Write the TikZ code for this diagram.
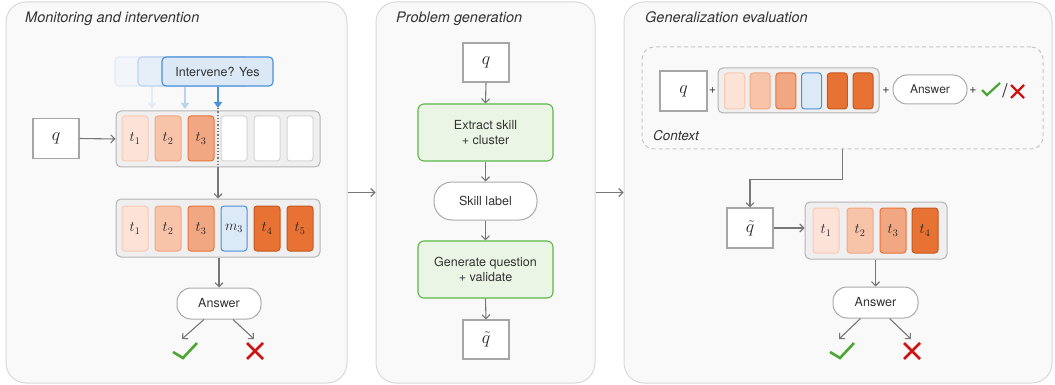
\RequirePackage{fix-cm}
\documentclass[tikz,border=0pt]{standalone}
\usepackage{fontspec}
\setmainfont{TeX Gyre Heros}
\usetikzlibrary{arrows.meta,calc}

\definecolor{txtc}{HTML}{333333}
\definecolor{panelf}{HTML}{F9F9F9}
\definecolor{panelb}{HTML}{D9D9D9}
\definecolor{contf}{HTML}{EFEFEF}
\definecolor{contb}{HTML}{B4B4B4}
\definecolor{qb}{HTML}{A6A6A6}
\definecolor{arrc}{HTML}{777777}
\definecolor{tAf}{HTML}{FDE3D7}\definecolor{tAb}{HTML}{F9C9B1}
\definecolor{tBf}{HTML}{F7C4AA}\definecolor{tBb}{HTML}{F2A883}
\definecolor{tCf}{HTML}{F1A882}\definecolor{tCb}{HTML}{E8743C}
\definecolor{tDf}{HTML}{E87233}\definecolor{tDb}{HTML}{C4581F}
\definecolor{tMf}{HTML}{DCE9F7}\definecolor{tMb}{HTML}{4A8FD8}
\definecolor{emptyb}{HTML}{D4D4D4}
\definecolor{grf}{HTML}{EBF5E6}\definecolor{grb}{HTML}{5CB646}
\definecolor{pillb}{HTML}{AAAAAA}
\definecolor{ivf}{HTML}{DBE8F6}\definecolor{ivb}{HTML}{4A90D9}
\definecolor{ghAf}{HTML}{F2F6FB}\definecolor{ghAb}{HTML}{E3ECF7}
\definecolor{ghBf}{HTML}{E6EEF8}\definecolor{ghBb}{HTML}{B9D3EF}
\definecolor{okc}{HTML}{4CA634}
\definecolor{noc}{HTML}{CC1414}
\definecolor{ctxb}{HTML}{C8C8C8}

\tikzset{
  panel/.style={draw=panelb, fill=panelf, rounded corners=20pt, line width=1pt, minimum height=381pt},
  ptitle/.style={anchor=base west, inner sep=0pt, text=txtc, font=\fontsize{14.5}{16}\selectfont\itshape},
  lbl/.style={text=txtc, font=\fontsize{12.5}{15}\selectfont},
  arr/.style={draw=arrc, line width=1.1pt, -{Straight Barb[length=4pt,width=8pt]}},
  qbox/.style={draw=qb, fill=white, line width=1.1pt, inner sep=0pt, text=black!85, font=\fontsize{18}{18}\selectfont},
  cont/.style={draw=contb, fill=contf, rounded corners=5pt, line width=1pt, inner sep=0pt},
  tok/.style={rounded corners=3pt, line width=1pt, inner sep=0pt, minimum width=26pt, minimum height=45pt, text=black!85, font=\fontsize{14.5}{14.5}\selectfont},
  stok/.style={rounded corners=3pt, line width=1pt, inner sep=0pt, minimum width=20pt, minimum height=36pt},
  tA/.style={draw=tAb, fill=tAf},
  tB/.style={draw=tBb, fill=tBf},
  tC/.style={draw=tCb, fill=tCf},
  tD/.style={draw=tDb, fill=tDf},
  tM/.style={draw=tMb, fill=tMf},
  tE/.style={draw=emptyb, fill=white},
  pill/.style={lbl, draw=pillb, fill=white, rounded corners=14pt, line width=1pt, inner sep=0pt},
  gbox/.style={lbl, align=center, draw=grb, fill=grf, rounded corners=6pt, line width=1.1pt, inner sep=0pt, minimum width=135pt, minimum height=57pt},
  ivbox/.style={lbl, rounded corners=4pt, line width=1.1pt, inner sep=0pt, minimum width=111pt, minimum height=29pt},
  okmark/.style={draw=okc, line width=2.6pt},
  nomark/.style={draw=noc, line width=2.6pt},
  plus/.style={text=txtc, inner sep=0pt, font=\fontsize{12.5}{14}\selectfont},
}

\begin{document}
\begin{tikzpicture}[x=1pt,y=-1pt]
\useasboundingbox (0,0) rectangle (1055,385);

% ---------- panels ----------
\node[panel, minimum width=341pt] (p1) at (176.5,192.5) {};
\node[panel, minimum width=219pt] (p2) at (485.5,192.5) {};
\node[panel, minimum width=428pt] (p3) at (838,192.5) {};
\node[ptitle] (t1) at (25,23) {Monitoring and intervention};
\node[ptitle] (t2) at (396,23) {Problem generation};
\node[ptitle] (t3) at (645,23) {Generalization evaluation};
\draw[arr] (p1.east) -- (p2.west);
\draw[arr] (p2.east) -- (p3.west);

% ---------- monitoring and intervention ----------
\node[qbox, minimum width=46pt, minimum height=40pt] (q1) at (56,138.5) {$q$};
\node[cont, minimum width=204pt, minimum height=56pt] (c1) at (218,139) {};
\node[tok,tA] (a1) at (135,138.5) {$t_1$};
\node[tok,tB] (a2) at (168,138.5) {$t_2$};
\node[tok,tC] (a3) at (201,138.5) {$t_3$};
\node[tok,tE] (a4) at (234,138.5) {};
\node[tok,tE] (a5) at (267,138.5) {};
\node[tok,tE] (a6) at (300,138.5) {};
\draw[arr] (q1.east) -- (c1.west);

% intervention probes: earlier (faded) and current
\node[ivbox, draw=ghAb, fill=ghAf] (g1) at (170.5,71.5) {};
\node[ivbox, draw=ghBb, fill=ghBf] (g2) at (193.5,71.5) {};
\node[ivbox, draw=ivb, fill=ivf] (iv) at (217.5,71.5) {Intervene? Yes};
\coordinate (gap1) at (152,109);
\coordinate (gap2) at (185,109);
\coordinate (gap3) at (218,108);
\draw[draw=ghAb, line width=2.4pt, -{Triangle[length=6pt,width=8pt]}] (gap1 |- g1.south) -- (gap1);
\draw[draw=ghBb, line width=2.4pt, -{Triangle[length=6pt,width=8pt]}] (gap2 |- g2.south) -- (gap2);
\draw[draw=ivb, line width=2.4pt, -{Triangle[length=6pt,width=8pt]}] (gap3 |- iv.south) -- (gap3);
\draw[draw=arrc, line width=1.3pt, dotted] (gap3) -- (gap3 |- c1.south);

\node[cont, minimum width=204pt, minimum height=58pt] (c2) at (218,228) {};
\node[tok,tA] (b1) at (135,228.5) {$t_1$};
\node[tok,tB] (b2) at (168,228.5) {$t_2$};
\node[tok,tC] (b3) at (201,228.5) {$t_3$};
\node[tok,tM] (b4) at (234,228.5) {$m_3$};
\node[tok,tD] (b5) at (267,228.5) {$t_4$};
\node[tok,tD] (b6) at (300,228.5) {$t_5$};
\draw[arr] (gap3 |- c1.south) -- (gap3 |- c2.north);

\node[pill, minimum width=84pt, minimum height=31pt] (ans1) at (219,303.5) {Answer};
\draw[arr] (ans1.north |- c2.south) -- (ans1.north);
\coordinate (ok1) at (185,351);
\coordinate (no1) at (255,351);
\draw[arr] ($(ans1.south)+(-15,0)$) -- ($(ok1)+(-3,-12)$);
\draw[arr] ($(ans1.south)+(14,0)$) -- ($(no1)+(-1,-12)$);
\draw[okmark, shift={(ok1)}] (-12,1) -- (-2,7) -- (12,-8);
\draw[nomark, shift={(no1)}] (-8,-8) -- (8,8) (-8,8) -- (8,-8);

% ---------- problem generation ----------
\node[qbox, minimum width=46pt, minimum height=39pt] (q2) at (486,62.5) {$q$};
\node[gbox] (ex) at (485.5,132.5) {Extract skill\\+ cluster};
\node[pill, minimum width=103pt, minimum height=38pt, rounded corners=18pt] (sk) at (485.5,201) {Skill label};
\node[gbox] (gen) at (485.5,269.5) {Generate question\\+ validate};
\node[qbox, minimum width=46pt, minimum height=39pt] (qt2) at (486,339.5) {$\tilde{q}$};
\draw[arr] (q2.south) -- (ex.north);
\draw[arr] (ex.south) -- (sk.north);
\draw[arr] (sk.south) -- (gen.north);
\draw[arr] (gen.south) -- (qt2.north);

% ---------- generalization evaluation ----------
\node[draw=ctxb, dashed, dash pattern=on 4pt off 3pt, line width=1pt, rounded corners=12pt,
      minimum width=401pt, minimum height=102pt, inner sep=0pt] (ctx) at (842.5,98) {};
\node[qbox, minimum width=47pt, minimum height=40pt] (q3) at (683.5,91) {$q$};
\node[plus] (pl1) at (712.5,90.5) {+};
\node[cont, minimum width=161pt, minimum height=45pt] (c3) at (798.5,90.5) {};
\node[stok,tA] (s1) at (734.5,91) {};
\node[stok,tB] (s2) at (760.2,91) {};
\node[stok,tC] (s3) at (785.9,91) {};
\node[stok,tM] (s4) at (811.6,91) {};
\node[stok,tD] (s5) at (837.3,91) {};
\node[stok,tD] (s6) at (863,91) {};
\node[plus] (pl2) at (886,90.5) {+};
\node[pill, minimum width=74pt, minimum height=29pt, font=\fontsize{12}{14}\selectfont] (ans2) at (930,89.5) {Answer};
\node[plus] (pl3) at (973,90.5) {+};
\coordinate (ok2) at (991,89);
\coordinate (no2) at (1017.5,91.5);
\draw[okmark, line width=2.2pt, shift={(ok2)}] (-9,1) -- (-4,6) -- (9,-6);
\node[text=txtc, inner sep=0pt, font=\fontsize{19}{19}\selectfont] (sl) at (1005,90.5) {/};
\draw[nomark, line width=2.2pt, shift={(no2)}] (-6.5,-6.5) -- (6.5,6.5) (-6.5,6.5) -- (6.5,-6.5);
\node[anchor=base west, inner sep=0pt, text=txtc, font=\fontsize{13.5}{15}\selectfont\itshape] (ctxl) at (653,141) {Context};

\node[qbox, minimum width=46pt, minimum height=40pt] (qt3) at (750,228) {$\tilde{q}$};
\draw[arr] (ctx.south) -- ++(0,30) -| (qt3.north);
\node[cont, minimum width=142pt, minimum height=57pt] (c4) at (876,230.5) {};
\node[tok,tA] (d1) at (826,230.5) {$t_1$};
\node[tok,tB] (d2) at (860,230.5) {$t_2$};
\node[tok,tC] (d3) at (893,230.5) {$t_3$};
\node[tok,tD] (d4) at (925,230.5) {$t_4$};
\draw[arr] (qt3.east) -- (qt3.east -| c4.west);

\node[pill, minimum width=85pt, minimum height=31pt] (ans3) at (875.5,302.5) {Answer};
\draw[arr] (ans3.north |- c4.south) -- (ans3.north);
\coordinate (ok3) at (842,351);
\coordinate (no3) at (912,351);
\draw[arr] ($(ans3.south)+(-15,0)$) -- ($(ok3)+(-3,-12)$);
\draw[arr] ($(ans3.south)+(14,0)$) -- ($(no3)+(-1,-12)$);
\draw[okmark, shift={(ok3)}] (-12,1) -- (-2,7) -- (12,-8);
\draw[nomark, shift={(no3)}] (-8,-8) -- (8,8) (-8,8) -- (8,-8);
\end{tikzpicture}
\end{document}
